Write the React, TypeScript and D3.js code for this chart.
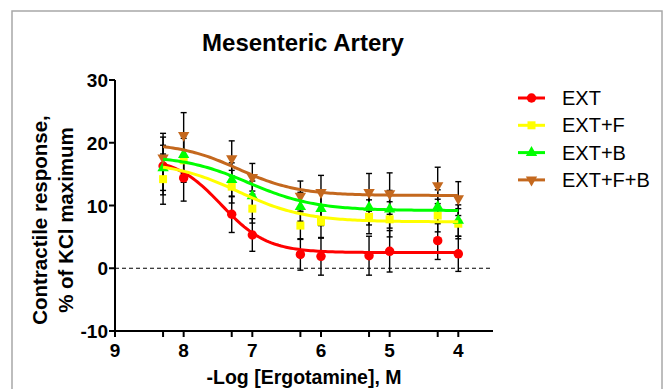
import React from "react";
import * as d3 from "d3";

const W = 669;
const H = 389;

const doses = [8.3, 8, 7.3, 7, 6.3, 6, 5.3, 5, 4.3, 4];
const seriesNames = ["EXT", "EXT+F", "EXT+B", "EXT+F+B"];
const seriesColors = ["#ff0000", "#ffff00", "#00ff00", "#c4681e"];
const seriesSymbols = ["circle", "square", "triangle", "triangleDown"];

const extMean = [16.3, 14.4, 8.6, 5.3, 2.2, 1.9, 2.0, 2.7, 4.4, 2.3];
const extSem = [4.6, 3.7, 2.9, 2.6, 2.5, 3.0, 3.1, 3.3, 3.0, 2.8];
const extFMean = [14.2, 17.2, 13.0, 9.5, 6.8, 7.4, 8.2, 7.8, 8.4, 7.1];
const extFSem = [4.0, 3.5, 2.6, 2.3, 2.2, 2.6, 2.7, 2.8, 2.6, 2.4];
const extBMean = [16.0, 18.1, 14.1, 11.5, 9.8, 9.5, 9.7, 9.4, 9.8, 7.6];
const extBSem = [3.6, 3.0, 2.7, 2.4, 2.3, 2.7, 2.8, 3.0, 2.7, 2.5];
const extFBMean = [17.6, 21.2, 17.5, 14.5, 11.5, 12.1, 12.1, 11.9, 13.2, 11.1];
const extFBSem = [3.9, 3.6, 2.8, 2.2, 2.4, 2.7, 3.0, 3.3, 2.9, 2.7];

// Fitted 4-parameter logistic curves: [top, bottom, pEC50, hill]
const fitTop = [17.7, 17.0, 18.0, 20.0];
const fitBottom = [2.5, 7.4, 9.2, 11.6];
const fitPEC50 = [7.45, 7.2, 7.05, 7.2];
const fitHill = [1.3, 0.9, 0.9, 1.0];

const yTicks = [-10, 0, 10, 20, 30];
const xTicks = [9, 8, 7, 6, 5, 4];

const means = [extMean, extFMean, extBMean, extFBMean];
const sems = [extSem, extFSem, extBSem, extFBSem];

const FONT = "'Liberation Sans', Arial, Helvetica, sans-serif";

export default function App() {
  const x = d3.scaleLinear().domain([9, 4]).range([115, 458.3]);
  const y = d3.scaleLinear().domain([-10, 30]).range([331, 80]);
  const xEnd = 493;

  const curve = (i: number) => {
    const pts: [number, number][] = [];
    const n = 120;
    for (let k = 0; k <= n; k++) {
      const p = 8.3 - (k / n) * (8.3 - 4);
      const v =
        fitBottom[i] +
        (fitTop[i] - fitBottom[i]) /
          (1 + Math.pow(10, fitHill[i] * (fitPEC50[i] - p)));
      pts.push([x(p), y(v)]);
    }
    return d3.line()(pts) as string;
  };

  const symbolPath = (type: string) => {
    if (type === "circle") return d3.symbol(d3.symbolCircle, 70)() as string;
    if (type === "square") return d3.symbol(d3.symbolSquare, 64)() as string;
    return d3.symbol(d3.symbolTriangle, 56)() as string;
  };

  const marker = (i: number, cx: number, cy: number, key: string) => {
    const t = seriesSymbols[i];
    const rot = t === "triangleDown" ? " rotate(180)" : "";
    return (
      <path
        key={key}
        d={symbolPath(t)}
        transform={`translate(${cx},${cy})${rot}`}
        fill={seriesColors[i]}
      />
    );
  };

  return (
    <svg
      width={W}
      height={H}
      style={{ position: "absolute", left: 0, top: 0, background: "#fff" }}
      fontFamily={FONT}
    >
      <rect x={12} y={11} width={650} height={400} fill="none" stroke="#a8a8a8" strokeWidth={1.5} />
      <text x={303} y={51} textAnchor="middle" fontSize={24} fontWeight="bold">
        Mesenteric Artery
      </text>

      {/* zero dashed line */}
      <line x1={115} x2={xEnd} y1={y(0)} y2={y(0)} stroke="#000" strokeWidth={1.2} strokeDasharray="4,3" />

      {/* error bars */}
      {means.map((m, i) =>
        m.map((v, j) => {
          const cx = x(doses[j]);
          const y1 = y(v + sems[i][j]);
          const y2 = y(v - sems[i][j]);
          return (
            <g key={`e${i}-${j}`} stroke="#000" strokeWidth={1.4}>
              <line x1={cx} x2={cx} y1={y1} y2={y2} />
              <line x1={cx - 3} x2={cx + 3} y1={y1} y2={y1} />
              <line x1={cx - 3} x2={cx + 3} y1={y2} y2={y2} />
            </g>
          );
        })
      )}

      {/* markers */}
      {means.map((m, i) => m.map((v, j) => marker(i, x(doses[j]), y(v), `m${i}-${j}`)))}

      {/* curves */}
      {means.map((_, i) => (
        <path key={`c${i}`} d={curve(i)} fill="none" stroke={seriesColors[i]} strokeWidth={3} />
      ))}

      {/* y axis */}
      <line x1={115} x2={115} y1={y(30)} y2={y(-10)} stroke="#000" strokeWidth={2} />
      {yTicks.map((t) => (
        <g key={`yt${t}`}>
          <line x1={109} x2={115} y1={y(t)} y2={y(t)} stroke="#000" strokeWidth={2} />
          <text x={108} y={y(t) + 7} textAnchor="end" fontSize={19} fontWeight="bold">
            {t}
          </text>
        </g>
      ))}

      {/* x axis */}
      <line x1={114} x2={xEnd} y1={331} y2={331} stroke="#000" strokeWidth={2} />
      {xTicks.map((t) => (
        <g key={`xt${t}`}>
          <line x1={x(t)} x2={x(t)} y1={331} y2={337} stroke="#000" strokeWidth={2} />
          <text x={x(t)} y={357} textAnchor="middle" fontSize={19} fontWeight="bold">
            {t}
          </text>
        </g>
      ))}
      {doses
        .filter((d) => !xTicks.includes(d))
        .map((d) => (
          <line key={`mt${d}`} x1={x(d)} x2={x(d)} y1={331} y2={337} stroke="#000" strokeWidth={2} />
        ))}

      <text x={304} y={384} textAnchor="middle" fontSize={19.5} fontWeight="bold">
        -Log [Ergotamine], M
      </text>

      <g transform="translate(0,220) rotate(-90)" fontSize={20.5} fontWeight="bold" textAnchor="middle">
        <text x={0} y={47}>Contractile response,</text>
        <text x={0} y={73}>% of KCl maximum</text>
      </g>

      {/* legend */}
      {seriesNames.map((name, i) => {
        const ly = 98 + i * 27.3;
        return (
          <g key={`lg${i}`}>
            <line x1={518} x2={545} y1={ly} y2={ly} stroke={seriesColors[i]} strokeWidth={3} />
            {marker(i, 531.5, ly, `lm${i}`)}
            <text x={562} y={ly + 7} fontSize={20}>
              {name}
            </text>
          </g>
        );
      })}
    </svg>
  );
}
